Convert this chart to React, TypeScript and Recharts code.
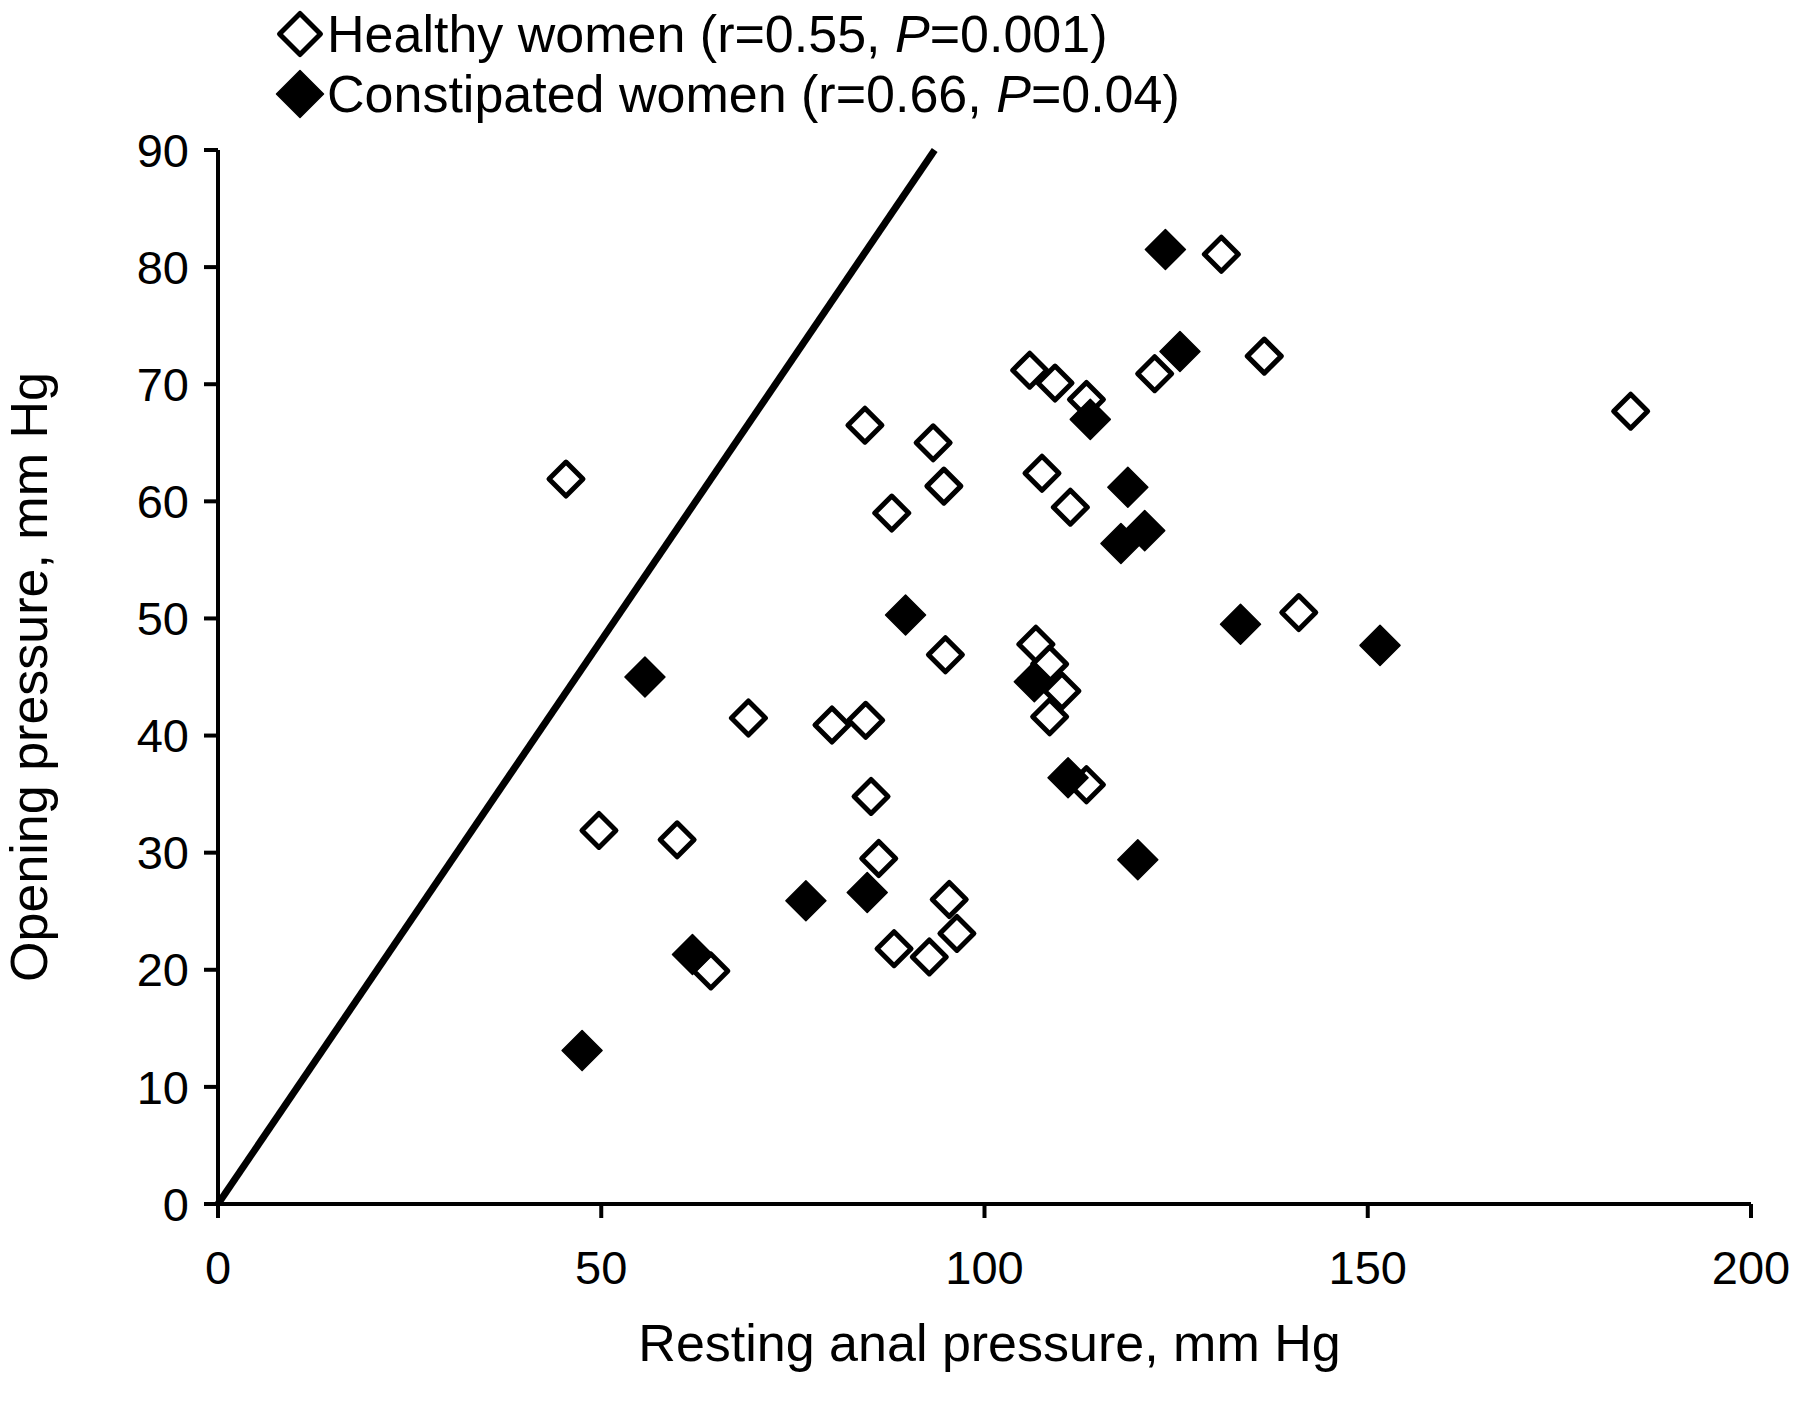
import { ScatterChart, Scatter, XAxis, YAxis, ReferenceLine, Legend } from "recharts";

// values
const healthyResting = [
  45.4, 49.7, 59.9, 64.3, 69.2, 80.1, 84.5, 84.4, 85.2, 86.2, 87.9, 88.2, 92.8,
  93.3, 94.7, 94.9, 95.4, 96.4, 105.9, 106.7, 107.5, 108.5, 108.5, 109.2, 110.1,
  111.2, 113.3, 113.3, 122.2, 130.9, 136.5, 141.0, 184.3,
];
const healthyOpening = [
  61.9, 31.9, 31.1, 19.9, 41.5, 40.9, 41.3, 66.5, 34.8, 29.5, 59.0, 21.8, 21.1,
  65.0, 61.3, 46.9, 26.0, 23.1, 71.2, 47.8, 62.4, 46.1, 41.6, 70.1, 43.8, 59.5,
  68.7, 35.8, 70.9, 81.1, 72.4, 50.5, 67.7,
];
const constipatedResting = [
  47.5, 55.7, 61.9, 76.7, 84.7, 89.7, 106.5, 110.9, 113.8, 117.8, 118.7, 120.9,
  120.0, 123.6, 125.5, 133.4, 151.6,
];
const constipatedOpening = [
  13.1, 45.0, 21.3, 25.9, 26.6, 50.3, 44.6, 36.4, 67.0, 56.4, 61.2, 57.5, 29.4,
  81.5, 72.8, 49.5, 47.7,
];

const xTicks = [0, 50, 100, 150, 200];
const yTicks = [0, 10, 20, 30, 40, 50, 60, 70, 80, 90];
const lineEnds = [
  { x: 0, y: 0 },
  { x: 93.5, y: 90 },
];

const seriesNames = ["Healthy women", "Constipated women"];
const seriesR = ["0.55", "0.66"];
const seriesP = ["0.001", "0.04"];

const xTitle = "Resting anal pressure, mm Hg";
const yTitle = "Opening pressure, mm Hg";

const FONT = "'Liberation Sans', Arial, Helvetica, sans-serif";

const zip = (xs: number[], ys: number[]) => xs.map((x, i) => ({ x, y: ys[i] }));
const healthy = zip(healthyResting, healthyOpening);
const constipated = zip(constipatedResting, constipatedOpening);

function diamondPoints(cx: number, cy: number, r: number) {
  return `${cx},${cy - r} ${cx + r},${cy} ${cx},${cy + r} ${cx - r},${cy}`;
}

function Diamond({
  cx,
  cy,
  filled,
  big = false,
}: {
  cx: number;
  cy: number;
  filled: boolean;
  big?: boolean;
}) {
  if (filled) {
    return (
      <polygon
        points={diamondPoints(cx, cy, big ? 23.5 : 20)}
        fill="#000"
        stroke="#000"
        strokeWidth={1.5}
        strokeLinejoin="round"
      />
    );
  }
  return (
    <polygon
      points={diamondPoints(cx, cy, big ? 20.5 : 17)}
      fill="#fff"
      stroke="#000"
      strokeWidth={5}
      strokeLinejoin="round"
    />
  );
}

function LegendBox() {
  return (
    <div style={{ fontFamily: FONT, fontSize: 52, color: "#000" }}>
      {seriesNames.map((name, i) => (
        <div
          key={name}
          style={{ display: "flex", alignItems: "center", height: 60, whiteSpace: "nowrap" }}
        >
          <svg width={54} height={54} style={{ display: "block" }}>
            <Diamond cx={27} cy={27} filled={i === 1} big />
          </svg>
          <span>
            {name} (r={seriesR[i]}, <i>P</i>={seriesP[i]})
          </span>
        </div>
      ))}
    </div>
  );
}

const axisStroke = { stroke: "#000", strokeWidth: 4 };
const tickStyle = { fill: "#000", fontSize: 47, fontFamily: FONT };

export default function App() {
  return (
    <div
      style={{
        position: "absolute",
        left: 0,
        top: 0,
        width: 1800,
        height: 1404,
        background: "#fff",
      }}
    >
      <ScatterChart
        width={1800}
        height={1404}
        margin={{ top: 150, right: 49, bottom: 0, left: 0 }}
      >
        <XAxis
          type="number"
          dataKey="x"
          domain={[0, 200]}
          ticks={xTicks}
          interval={0}
          height={200}
          tickSize={14}
          tickMargin={33}
          axisLine={axisStroke}
          tickLine={axisStroke}
          tick={tickStyle}
          label={(props: any) => {
            const vb = props.viewBox;
            return (
              <text
                x={vb.x + vb.width / 2 + 5}
                y={vb.y + 139}
                textAnchor="middle"
                dominantBaseline="central"
                fontFamily={FONT}
                fontSize={52}
                fill="#000"
              >
                {xTitle}
              </text>
            );
          }}
        />
        <YAxis
          type="number"
          dataKey="y"
          domain={[0, 90]}
          ticks={yTicks}
          interval={0}
          width={218}
          tickSize={14}
          tickMargin={15}
          axisLine={axisStroke}
          tickLine={axisStroke}
          tick={tickStyle}
          label={(props: any) => {
            const vb = props.viewBox;
            const cx = vb.x + 29;
            const cy = vb.y + vb.height / 2;
            return (
              <text
                x={cx}
                y={cy}
                transform={`rotate(-90, ${cx}, ${cy})`}
                textAnchor="middle"
                dominantBaseline="central"
                fontFamily={FONT}
                fontSize={52}
                fill="#000"
              >
                {yTitle}
              </text>
            );
          }}
        />
        <ReferenceLine segment={lineEnds} stroke="#000" strokeWidth={7} />
        <Scatter
          name={seriesNames[0]}
          data={healthy}
          isAnimationActive={false}
          shape={(p: any) => <Diamond cx={p.cx} cy={p.cy} filled={false} />}
        />
        <Scatter
          name={seriesNames[1]}
          data={constipated}
          isAnimationActive={false}
          shape={(p: any) => <Diamond cx={p.cx} cy={p.cy} filled />}
        />
        <Legend
          layout="vertical"
          align="center"
          verticalAlign="middle"
          content={() => <LegendBox />}
          wrapperStyle={{ top: 4, left: 273, width: 1200, height: 120 }}
        />
      </ScatterChart>
    </div>
  );
}
